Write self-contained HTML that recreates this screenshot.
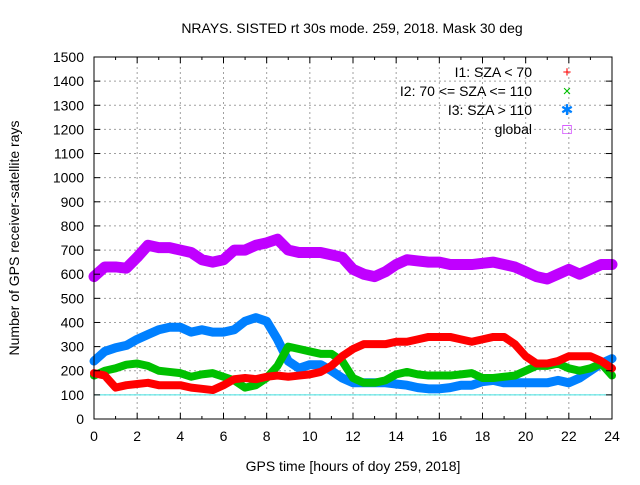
<!DOCTYPE html>
<html><head><meta charset="utf-8"><style>
body{margin:0;background:#fff;}
svg text{font-family:"Liberation Sans",sans-serif;font-size:14px;fill:#000;}
</style></head><body>
<svg id="c" width="640" height="480" xmlns="http://www.w3.org/2000/svg">
<rect width="640" height="480" fill="#fff"/>
<g id="grid"></g><g id="series"></g><g id="axes"></g>
<text x="352" y="33" text-anchor="middle">NRAYS. SISTED rt 30s mode. 259, 2018. Mask 30 deg</text>
<text x="353" y="471" text-anchor="middle">GPS time [hours of doy 259, 2018]</text>
<text x="19" y="238" text-anchor="middle" transform="rotate(-90 19 238)">Number of GPS receiver-satellite rays</text>
<g id="legend"></g>
</svg>
<script>
const hours=[0,0.5,1,1.5,2,2.5,3,3.5,4,4.5,5,5.5,6,6.5,7,7.5,8,8.5,9,9.5,10,10.5,11,11.5,12,12.5,13,13.5,14,14.5,15,15.5,16,16.5,17,17.5,18,18.5,19,19.5,20,20.5,21,21.5,22,22.5,23,23.5,24];
const globalVals=[590,630,630,625,670,720,710,710,700,690,660,650,660,700,700,720,730,745,700,690,690,690,680,670,620,600,590,610,640,660,655,650,650,640,640,640,645,650,640,630,610,590,580,600,620,600,620,640,640];
const i1Vals=[190,180,130,140,145,150,140,140,140,130,125,120,140,165,170,165,175,180,175,180,185,195,220,260,290,310,310,310,320,320,330,340,340,340,330,320,330,340,340,310,260,230,230,240,260,260,260,240,210];
const i2Vals=[180,200,210,225,230,220,200,195,190,175,185,190,175,160,130,140,170,220,300,290,280,270,270,240,170,150,150,160,185,195,185,180,180,180,185,190,170,170,175,180,200,220,220,230,210,200,210,230,180];
const i3Vals=[240,280,295,305,330,350,370,380,380,360,370,360,360,370,405,420,405,330,240,210,225,225,200,170,150,150,150,150,145,140,130,125,125,130,140,140,155,160,150,150,150,150,150,160,150,170,200,230,250];
const yTicks=[0,100,200,300,400,500,600,700,800,900,1000,1100,1200,1300,1400,1500];
const xTicks=[0,2,4,6,8,10,12,14,16,18,20,22,24];
const X0=94,X1=612,Y0=419,Y1=57;
const sx=h=>X0+(X1-X0)*h/24, sy=v=>Y0-(Y0-Y1)*v/1500;
const NS="http://www.w3.org/2000/svg";
function mk(t,a,p){const e=document.createElementNS(NS,t);for(const k in a)e.setAttribute(k,a[k]);p.appendChild(e);return e;}
const grid=document.getElementById('grid'),axes=document.getElementById('axes'),ser=document.getElementById('series'),leg=document.getElementById('legend');
yTicks.forEach(v=>{
 if(v>0&&v<1500){const l=mk('line',{x1:X0,x2:X1,y1:sy(v),y2:sy(v),stroke:'#a0a0a0','stroke-dasharray':'2,3'},grid);}
 const t=mk('text',{x:X0-10,y:sy(v)+5,'text-anchor':'end'},axes);t.textContent=v;
 
 mk('line',{x1:X0,x2:X0+6,y1:sy(v),y2:sy(v),stroke:'#000'},axes);
 mk('line',{x1:X1,x2:X1-6,y1:sy(v),y2:sy(v),stroke:'#000'},axes);
});
xTicks.forEach(h=>{
 if(h>0&&h<24){const l=mk('line',{x1:sx(h),x2:sx(h),y1:Y0,y2:Y1,stroke:'#a0a0a0','stroke-dasharray':'2,3'},grid);}
 const t=mk('text',{x:sx(h),y:Y0+22,'text-anchor':'middle'},axes);t.textContent=h;
 
 mk('line',{x1:sx(h),x2:sx(h),y1:Y0,y2:Y0-6,stroke:'#000'},axes);
 mk('line',{x1:sx(h),x2:sx(h),y1:Y1,y2:Y1+6,stroke:'#000'},axes);
 if(h<24){mk('line',{x1:sx(h+1),x2:sx(h+1),y1:Y0,y2:Y0-3,stroke:'#000'},axes);mk('line',{x1:sx(h+1),x2:sx(h+1),y1:Y1,y2:Y1+3,stroke:'#000'},axes);}
});
const ref=mk('line',{x1:X0,x2:X1,y1:sy(100),y2:sy(100),stroke:'#40e0e0'},grid);

const frame=mk('rect',{x:X0,y:Y1,width:X1-X0,height:Y0-Y1,fill:'none',stroke:'#000'},axes);

const series=[['i3',i3Vals,'#0080ff',9],['i2',i2Vals,'#00c000',8],['i1',i1Vals,'#ff0000',8],['global',globalVals,'#c000ff',11]];
series.forEach(([n,vals,c,w])=>{
 const pts=vals.map((v,i)=>sx(hours[i])+','+sy(v)).join(' ');
 const p=mk('polyline',{points:pts,fill:'none',stroke:c,'stroke-width':w,'stroke-linejoin':'round','stroke-linecap':'round'},ser);
 
});
const items=[['I1: SZA < 70','#ff0000','+'],['I2: 70 <= SZA <= 110','#00c000','×'],['I3: SZA > 110','#0080ff','✱'],['global','#c000ff','□']];
items.forEach(([lab,c,s],i)=>{
 const y=72+i*19;
 const t=mk('text',{x:532,y:y+5,'text-anchor':'end'},leg);t.textContent=lab;
 
 const m=mk('text',{x:567,y:y+5,'text-anchor':'middle',style:'fill:'+c+';font-size:15px'},leg);m.textContent=s;
 
});
</script>
</body></html>
